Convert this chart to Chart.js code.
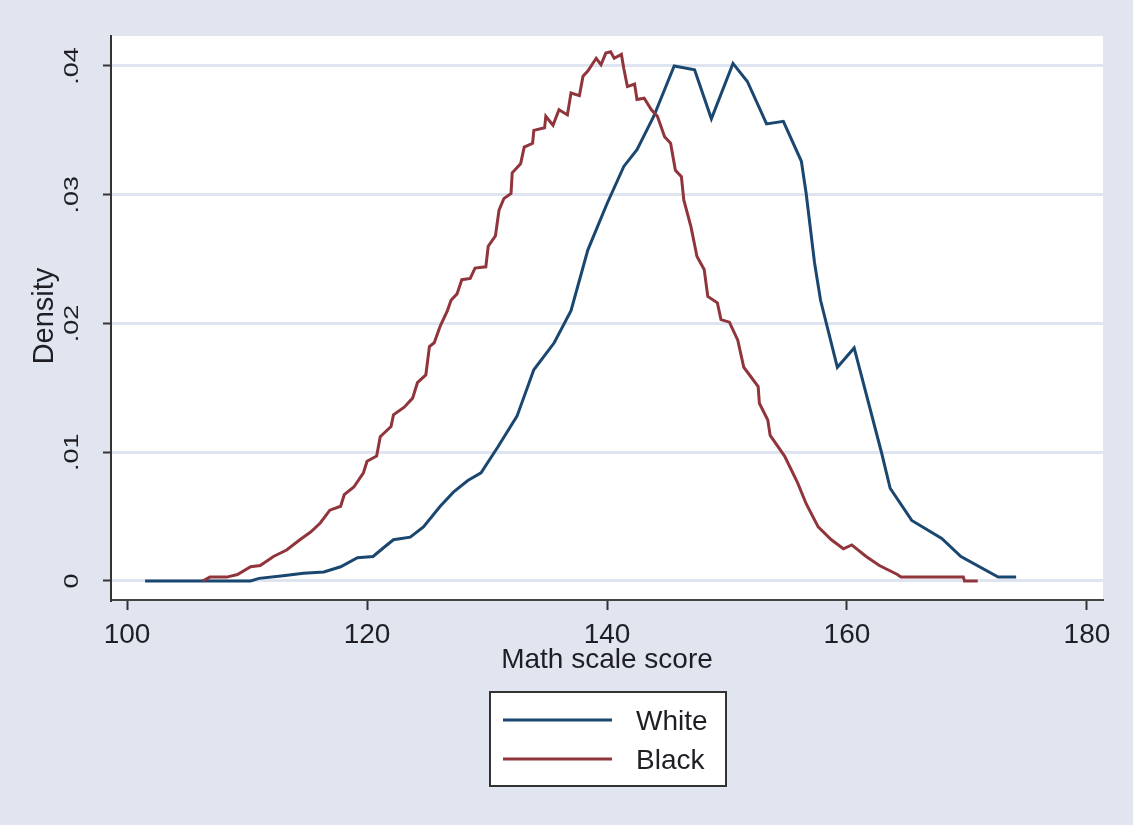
<!DOCTYPE html>
<html lang="en">
<head>
<meta charset="UTF-8">
<title>Math scale score density</title>
<script src="https://cdn.jsdelivr.net/npm/chart.js@4"></script>
<style>
  html, body { margin: 0; padding: 0; background: #e1e5f0; }
  canvas { display: block; }
</style>
</head>
<body>
<canvas id="densityChart" width="1133" height="825"></canvas>
<script>
// density curves
const whiteScore = [101.5, 110.3, 111.0, 113.0, 114.7, 116.4, 117.8, 119.2, 120.5, 121.4, 122.2, 123.6,
  124.7, 126.1, 127.2, 128.4, 129.5, 130.9, 132.5, 133.9, 135.6, 137.0, 138.4, 139.2, 140.0, 141.4,
  142.5, 143.9, 145.6, 147.3, 148.7, 150.5, 151.7, 153.3, 154.7, 156.2, 156.6, 157.3, 157.8, 159.2,
  160.6, 162.9, 163.6, 165.4, 167.9, 169.5, 172.6, 174.1];
const whiteDensity = [0, 0, .0002, .0004, .0006, .0007, .0011, .0018, .0019, .0026, .0032, .0034,
  .0042, .0058, .0069, .0078, .0084, .0104, .0128, .0164, .0185, .0210, .0257, .0275, .0293, .0322,
  .0335, .0361, .0400, .0397, .0359, .0402, .0388, .0355, .0357, .0326, .0301, .0247, .0218, .0166,
  .0181, .0099, .0072, .0047, .0033, .0019, .0003, .0003];

const blackScore = [106.3, 106.9, 108.3, 109.2, 110.3, 111.1, 112.2, 113.3, 114.4, 115.3, 116.1, 116.9,
  117.8, 118.1, 118.9, 119.7, 120.0, 120.8, 121.1, 122.0, 122.2, 123.1, 123.8, 124.2, 124.9, 125.2,
  125.6, 126.1, 126.7, 127.0, 127.5, 127.9, 128.6, 129.0, 129.9, 130.1, 130.7, 131.0, 131.4, 132.0,
  132.1, 132.8, 133.1, 133.8, 133.9, 134.8, 134.9, 135.5, 136.0, 136.7, 137.0, 137.7, 138.0, 138.4,
  139.1, 139.5, 139.9, 140.3, 140.6, 141.2, 141.4, 141.7, 142.3, 142.5, 143.1, 143.7, 144.2, 144.8,
  145.3, 145.7, 146.2, 146.4, 147.0, 147.5, 148.1, 148.4, 149.2, 149.5, 150.2, 150.9, 151.4, 152.6,
  152.7, 153.4, 153.6, 154.8, 155.9, 156.6, 157.6, 158.7, 159.7, 160.4, 161.6, 162.7, 164.2, 164.5,
  169.7, 169.8, 170.9];
const blackDensity = [0, .0003, .0003, .0005, .0011, .0012, .0019, .0024, .0032, .0038, .0045, .0055,
  .0058, .0067, .0073, .0084, .0093, .0097, .0112, .0120, .0129, .0135, .0142, .0154, .0160, .0182,
  .0185, .0198, .0210, .0218, .0223, .0234, .0235, .0243, .0244, .0260, .0268, .0288, .0297, .0301,
  .0317, .0324, .0337, .0340, .0350, .0352, .0361, .0354, .0366, .0362, .0379, .0377, .0392, .0396,
  .0406, .0401, .0410, .0411, .0406, .0409, .0398, .0384, .0386, .0374, .0375, .0366, .0361, .0345,
  .0340, .0319, .0314, .0296, .0275, .0252, .0242, .0221, .0216, .0203, .0201, .0187, .0166, .0151,
  .0138, .0125, .0113, .0097, .0076, .0060, .0042, .0032, .0025, .0028, .0019, .0012, .0005, .0003,
  .0003, 0, 0];

const seriesNames = ['White', 'Black'];
const seriesColors = ['#1a476f', '#90353b'];
const xTicks = [100, 120, 140, 160, 180];
const yTicks = [0, .01, .02, .03, .04];
const yTickLabels = ['0', '.01', '.02', '.03', '.04'];

const FONT = "'Liberation Sans', Arial, sans-serif";
const TEXT = '#1e1e24';

function toPoints(xs, ys) {
  return xs.map((x, i) => ({ x: x, y: ys[i] }));
}

// outer background + white plot region
const backdrop = {
  id: 'backdrop',
  beforeDraw(chart) {
    const ctx = chart.ctx, a = chart.chartArea;
    ctx.save();
    ctx.fillStyle = '#e1e5f0';
    ctx.fillRect(0, 0, chart.width, chart.height);
    ctx.fillStyle = '#ffffff';
    ctx.fillRect(a.left, a.top, a.right - a.left, a.bottom - a.top);
    ctx.restore();
  }
};

// rotated y labels, y title and the boxed legend
const extras = {
  id: 'extras',
  afterDraw(chart) {
    const ctx = chart.ctx, y = chart.scales.y, a = chart.chartArea;
    ctx.save();
    ctx.fillStyle = TEXT;
    ctx.textAlign = 'center';
    ctx.textBaseline = 'alphabetic';
    ctx.font = '27px ' + FONT;
    yTicks.forEach((v, i) => {
      ctx.save();
      ctx.translate(78, y.getPixelForValue(v));
      ctx.rotate(-Math.PI / 2);
      ctx.scale(1, 0.75);
      ctx.fillText(yTickLabels[i], 0, 0);
      ctx.restore();
    });
    ctx.save();
    ctx.font = '29px ' + FONT;
    ctx.translate(53, (a.top + a.bottom) / 2 - 2);
    ctx.rotate(-Math.PI / 2);
    ctx.fillText('Density', 0, 0);
    ctx.restore();

    // legend box
    const bx = 490, by = 692, bw = 236, bh = 94;
    ctx.fillStyle = '#ffffff';
    ctx.fillRect(bx, by, bw, bh);
    ctx.strokeStyle = '#333333';
    ctx.lineWidth = 2;
    ctx.strokeRect(bx, by, bw, bh);
    ctx.font = '28px ' + FONT;
    ctx.textAlign = 'left';
    ctx.textBaseline = 'middle';
    seriesNames.forEach((name, i) => {
      const ly = 720 + i * 39;
      ctx.strokeStyle = seriesColors[i];
      ctx.lineWidth = 3;
      ctx.beginPath();
      ctx.moveTo(503, ly);
      ctx.lineTo(612, ly);
      ctx.stroke();
      ctx.fillStyle = TEXT;
      ctx.fillText(name, 636, ly + 2);
    });
    ctx.restore();
  }
};

new Chart(document.getElementById('densityChart'), {
  type: 'scatter',
  data: {
    datasets: [
      {
        label: seriesNames[0],
        data: toPoints(whiteScore, whiteDensity),
        showLine: true,
        borderColor: seriesColors[0],
        borderWidth: 3,
        pointRadius: 0,
        tension: 0,
        order: 2
      },
      {
        label: seriesNames[1],
        data: toPoints(blackScore, blackDensity),
        showLine: true,
        borderColor: seriesColors[1],
        borderWidth: 3,
        pointRadius: 0,
        tension: 0,
        order: 1
      }
    ]
  },
  options: {
    responsive: false,
    animation: false,
    devicePixelRatio: 1,
    layout: { padding: { top: 36, right: 30, bottom: 145, left: 0 } },
    plugins: {
      legend: { display: false },
      tooltip: { enabled: false }
    },
    scales: {
      x: {
        type: 'linear',
        min: 98.66,
        max: 181.34,
        afterBuildTicks: s => { s.ticks = xTicks.map(v => ({ value: v })); },
        afterFit: s => { s.height = 80; },
        grid: { drawOnChartArea: false, drawTicks: true, tickLength: 10, tickColor: '#333', tickWidth: 2 },
        border: { display: true, color: '#444', width: 2 },
        ticks: {
          autoSkip: false, maxRotation: 0, padding: 8, color: TEXT,
          font: { family: FONT, size: 28 },
          callback: v => String(v)
        },
        title: {
          display: true, text: 'Math scale score', color: TEXT,
          font: { family: FONT, size: 28 },
          padding: { top: 0, bottom: 3 }
        }
      },
      y: {
        min: -0.00148,
        max: 0.04233,
        afterBuildTicks: s => { s.ticks = yTicks.map(v => ({ value: v })); },
        afterFit: s => { s.width = 111; },
        grid: { color: '#dfe5f0', lineWidth: 3, drawTicks: true, tickLength: 8, tickColor: '#333', tickWidth: 2 },
        border: { display: true, color: '#333', width: 2 },
        ticks: { display: false }
      }
    }
  },
  plugins: [backdrop, extras]
});
</script>
</body>
</html>
